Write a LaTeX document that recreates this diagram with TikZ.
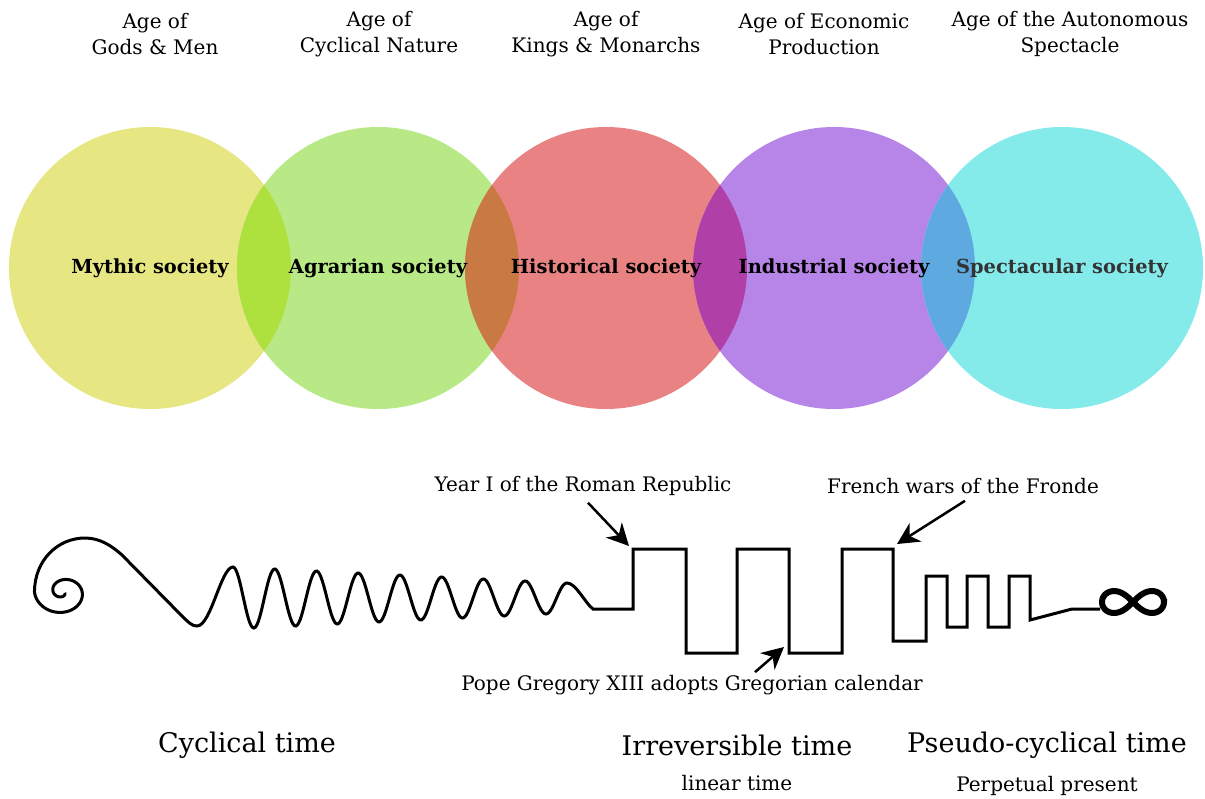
\documentclass[tikz,border=0pt]{standalone}
\usepackage{fontspec}
\setmainfont{DejaVu Serif}
\usepackage{tikz}
\usetikzlibrary{positioning,arrows.meta,calc}

\definecolor{mythcol}{HTML}{E6E682}
\definecolor{agrcol}{HTML}{B8E986}
\definecolor{histcol}{HTML}{E98383}
\definecolor{indcol}{HTML}{B785E8}
\definecolor{speccol}{HTML}{85EAEA}
\definecolor{ovA}{HTML}{AEE03E}
\definecolor{ovB}{HTML}{C97A42}
\definecolor{ovC}{HTML}{B03FA8}
\definecolor{ovD}{HTML}{5EAAE0}

\begin{document}
\begin{tikzpicture}[
  x=0.5pt, y=-0.5pt,
  society/.style={circle, minimum size=141pt, inner sep=0pt},
  socname/.style={font=\fontsize{9.7}{11}\selectfont\bfseries},
  age/.style={font=\fontsize{10}{13.2}\selectfont, align=center},
  era/.style={font=\fontsize{13.5}{16}\selectfont},
  subtitle/.style={font=\fontsize{10}{12}\selectfont},
  event/.style={font=\fontsize{10}{12}\selectfont},
  pointer/.style={-{Stealth[length=11pt, width=11pt, inset=3.5pt]}, line width=1.25pt},
  timeline/.style={line width=1.5pt, line join=miter}
]
\useasboundingbox (0,0) rectangle (1205,798);

% the five societies
\foreach \n/\x/\c in {mythic/150/mythcol, agrarian/378/agrcol, historical/606/histcol,
                      industrial/834/indcol, spectacular/1062/speccol}
  \node[society, fill=\c] (\n) at (\x,268) {};

\foreach \a/\b/\c in {mythic/agrarian/ovA, agrarian/historical/ovB,
                      historical/industrial/ovC, industrial/spectacular/ovD}{
  \begin{scope}
    \clip (\a.center) circle[radius=70.5pt];
    \fill[\c] (\b.center) circle[radius=70.5pt];
  \end{scope}
}

\node[socname] (mythiclbl) at (mythic) {Mythic society};
\node[socname] (agrarianlbl) at (agrarian) {Agrarian society};
\node[socname] (historicallbl) at (historical) {Historical society};
\node[socname] (industriallbl) at (industrial) {Industrial society};
\node[socname, text=black!80] (spectacularlbl) at (spectacular) {Spectacular society};

\node[age] (agegods) at (155,34) {Age of\\Gods \& Men};
\node[age] (agenature) at (379,34) {Age of\\Cyclical Nature};
\node[age] (agekings) at (606,34) {Age of\\Kings \& Monarchs};
\node[age] (ageecon) at (824,34) {Age of Economic\\Production};
\node[age] (agespect) at (1070,34) {Age of the Autonomous\\Spectacle};

% the line of time
\draw[timeline]
  plot[domain=-330:180, samples=120, variable=\t]
    ({63+(2+0.052*(\t+330))*cos(\t)}, {592+0.85*(2+0.052*(\t+330))*sin(\t)})
  .. controls (34.5,560) and (58,538) .. (85,538)
  .. controls (100,538) and (112,546) .. (122,555)
  -- (180,614)
  .. controls (189,623) and (192,626) .. (197,626)
  .. controls (211,626) and (221,567) .. (233,567)
  -- plot[domain=233:567, samples=240, variable=\x]
    (\x, {598-(31-0.0479*(\x-233))*cos(8.6228*(\x-233))})
  .. controls (576,583) and (585,603) .. (593,609)
  -- (633,609) -- (633,549) -- (686,549) -- (686,653) -- (737,653)
  -- (737,549) -- (789,549) -- (789,653) -- (842,653) -- (842,549)
  -- (893,549) -- (893,641) -- (926,641) -- (926,576) -- (947,576)
  -- (947,627) -- (967,627) -- (967,576) -- (988,576) -- (988,627)
  -- (1009,627) -- (1009,576) -- (1030,576) -- (1030,620)
  -- (1072,609) -- (1100,609);
\draw[line width=3pt]
  plot[domain=0:360, samples=120, variable=\t]
    ({1133+31*cos(\t)/(1+sin(\t)*sin(\t))}, {602+31*sin(\t)*cos(\t)/(1+sin(\t)*sin(\t))}) -- cycle;

% events
\node[event] (yearlbl) at (583,486) {Year I of the Roman Republic};
\node[event] (frondelbl) at (963,486) {French wars of the Fronde};
\node[event] (greglbl) at (692,685) {Pope Gregory XIII adopts Gregorian calendar};
\coordinate (yeartip) at (629,546);
\coordinate (frondetip) at (897,544);
\coordinate (gregtip) at (784,647);
\draw[pointer] ([xshift=2.5pt]yearlbl.south) -- (yeartip);
\draw[pointer] ([xshift=1pt]frondelbl.south) -- (frondetip);
\draw[pointer] ([xshift=31.5pt, yshift=-2pt]greglbl.north) -- (gregtip);

% kinds of time
\node[era] (cyclical) at (247,745) {Cyclical time};
\node[era] (irrev) at (737,745) {Irreversible time};
\node[era] (pseudo) at (1047,745) {Pseudo-cyclical time};
\node[subtitle, below=3pt of irrev] (linear) {linear time};
\node[subtitle, below=2pt of pseudo] (perpetual) {Perpetual present};
\end{tikzpicture}
\end{document}
